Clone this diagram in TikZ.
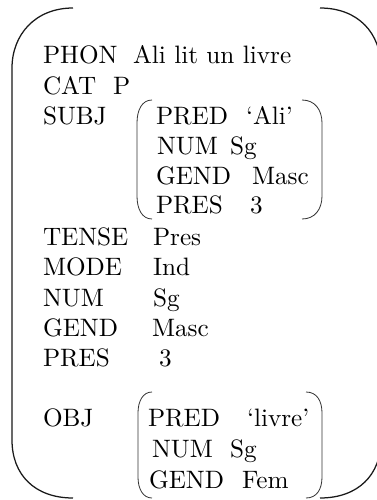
\documentclass[tikz,border=0pt]{standalone}
\begin{document}
\begin{tikzpicture}[x=0.397pt,y=-0.397pt,
  lbl/.style={anchor=base west,inner sep=0pt,outer sep=0pt,font=\normalsize},
  outerbr/.style={line width=0.5pt,black!90},
  innerbr/.style={line width=0.32pt,black!80}]
\useasboundingbox (0,0) rectangle (376,500);
% outer brackets
\draw[outerbr] (73,8) .. controls (35,8) and (12,35) .. (12,68) -- (12,440) .. controls (12,475) and (35,498) .. (73,498);
\draw[outerbr] (320,8) .. controls (358,8) and (381,33) .. (381,68) -- (381,440) .. controls (381,475) and (358,498) .. (320,498);
% SUBJ brackets
\draw[innerbr] (152,100) .. controls (142,100) and (137,110) .. (137,123) -- (137,196) .. controls (137,209) and (142,219) .. (152,219);
\draw[innerbr] (302,100) .. controls (315,100) and (322,110) .. (322,123) -- (322,196) .. controls (322,209) and (315,219) .. (302,219);
% OBJ brackets
\draw[innerbr] (152,392) .. controls (143,392) and (138,401) .. (138,413) -- (138,477) .. controls (138,489) and (143,498) .. (152,498);
\draw[innerbr] (306,392) .. controls (317,392) and (322,401) .. (322,413) -- (322,477) .. controls (322,489) and (317,498) .. (306,498);
% outer attributes
\node[lbl] (phon) at (43,63) {PHON};
\node[lbl] (phonv) at (133,63) {Ali lit un livre};
\node[lbl] (cat) at (43,94) {CAT};
\node[lbl] (catv) at (113,94) {P};
\node[lbl] (subj) at (43,124) {SUBJ};
\node[lbl] (tense) at (43,245) {TENSE};
\node[lbl] (tensev) at (153,245) {Pres};
\node[lbl] (mode) at (43,275) {MODE};
\node[lbl] (modev) at (153,275) {Ind};
\node[lbl] (num) at (43,306) {NUM};
\node[lbl] (numv) at (153,306) {Sg};
\node[lbl] (gend) at (43,336) {GEND};
\node[lbl] (gendv) at (152,336) {Masc};
\node[lbl] (pres) at (43,366) {PRES};
\node[lbl] (presv) at (159,366) {3};
\node[lbl] (obj) at (43,426) {OBJ};
% SUBJ matrix
\node[lbl] (spred) at (156,124) {PRED};
\node[lbl] (spredv) at (246,124) {`Ali'};
\node[lbl] (snum) at (157,154) {NUM};
\node[lbl] (snumv) at (230,154) {Sg};
\node[lbl] (sgend) at (156,184) {GEND};
\node[lbl] (sgendv) at (252,184) {Masc};
\node[lbl] (spres) at (156,213) {PRES};
\node[lbl] (spresv) at (250,213) {3};
% OBJ matrix
\node[lbl] (opred) at (148,426) {PRED};
\node[lbl] (opredv) at (247,426) {`livre'};
\node[lbl] (onum) at (152,457) {NUM};
\node[lbl] (onumv) at (230,457) {Sg};
\node[lbl] (ogend) at (149,488) {GEND};
\node[lbl] (ogendv) at (242,488) {Fem};
\end{tikzpicture}
\end{document}
